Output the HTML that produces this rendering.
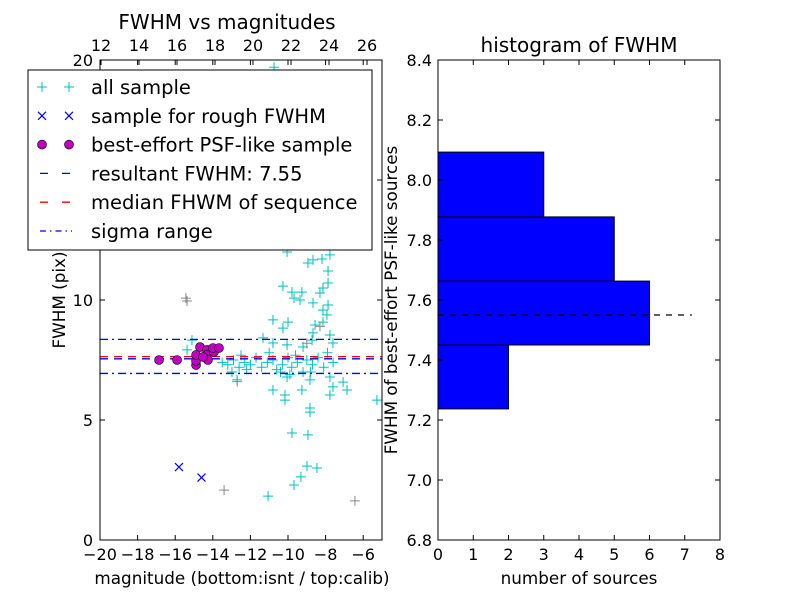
<!DOCTYPE html>
<html><head><meta charset="utf-8"><style>
body{margin:0;background:#fff;}
svg{display:block;font-family:"DejaVu Sans","Liberation Sans",sans-serif;}
</style></head><body>
<svg id="c" width="800" height="600"></svg>
<script>
const allMag=[-10.05,-8.94,-8.67,-8.19,-7.77,-7.87,-10.27,-9.79,-9.26,-9.68,-9.36,-8.14,-7.87,-8.30,-8.67,-7.87,-8.14,-7.93,-10.80,-10.0,-10.27,-8.56,-8.14,-8.67,-7.77,-7.61,-8.72,-11.33,-10.80,-10.05,-9.20,-15.11,-15.37,-13.2,-12.9,-12.6,-12.3,-12.0,-11.7,-11.4,-11.1,-10.8,-10.6,-10.3,-10.0,-9.8,-9.5,-9.2,-9.0,-8.7,-8.4,-8.1,-7.9,-7.6,-12.5,-11.0,-9.6,-13.5,-12.2,-10.4,-9.9,-8.8,-12.98,-12.71,-10.05,-8.83,-7.77,-7.61,-7.07,-6.86,-10.80,-10.16,-9.26,-7.77,-5.27,-8.83,-10.16,-8.83,-9.79,-8.94,-8.99,-8.46,-9.31,-9.68,-11.06,-10.74];
const allFwhm=[12.0,11.54,11.67,11.71,11.88,11.21,10.58,10.33,10.33,10.08,10.0,10.5,10.71,10.29,9.88,9.79,9.58,9.38,9.17,9.08,8.83,8.96,9.08,8.63,8.54,8.21,8.33,8.42,8.21,8.13,8.04,8.33,7.92,7.3,7.5,7.2,7.4,7.3,7.6,7.2,7.4,7.5,7.1,7.3,7.6,7.2,7.4,7.0,7.5,7.3,7.6,7.2,7.8,7.4,7.7,7.8,7.7,7.4,7.1,7.0,6.9,7.0,7.0,6.67,6.79,6.67,6.79,6.38,6.58,6.25,6.25,6.04,6.25,6.04,5.83,5.5,5.83,5.33,4.46,4.38,3.08,3.0,2.63,2.29,1.83,19.7];
const greyMag=[-15.43,-15.37,-13.40,-6.44,-9.0,-8.3,-12.7];
const greyFwhm=[10.08,9.96,2.08,1.63,8.2,8.9,6.6];
const roughMag=[-15.8,-14.6];
const roughFwhm=[3.04,2.6];
const bestMag=[-16.86,-15.9,-14.89,-14.89,-14.89,-14.68,-14.31,-14.31,-14.26,-13.94,-13.99,-13.67,-14.52];
const bestFwhm=[7.5,7.5,7.29,7.46,7.71,8.04,7.92,7.71,7.5,7.83,8.0,8.0,7.63];
const resultFwhm=7.55, medianFwhm=7.64, sigmaLo=6.94, sigmaHi=8.36;
const binEdges=[7.237,7.45,7.663,7.877,8.093];
const binCounts=[2,6,5,3];
const leftXTicks=[-20,-18,-16,-14,-12,-10,-8,-6];
const topXTicks=[12,14,16,18,20,22,24,26];
const leftYTicks=[0,5,10,15,20];
const rightXTicks=[0,1,2,3,4,5,6,7,8];
const rightYTicks=["6.8","7.0","7.2","7.4","7.6","7.8","8.0","8.2","8.4"];

const NS="http://www.w3.org/2000/svg";
const svg=document.getElementById('c');
function mk(tag,at,parent){const e=document.createElementNS(NS,tag);for(const k in at)e.setAttribute(k,at[k]);(parent||svg).appendChild(e);return e;}
function txt(s,x,y,size,anchor,parent){const t=mk('text',{x:x,y:y,'font-size':size,'text-anchor':anchor||'middle',fill:'#000'},parent);t.textContent=s;return t;}

const L={x0:100,x1:382,y0:60,y1:540};
const lx=v=>L.x0+(v+20)/15*(L.x1-L.x0);
const ly=v=>L.y1-v/20*(L.y1-L.y0);
const tx=v=>101+(v-12)*19;
const R={x0:438,x1:720,y0:60,y1:540};
const rx=v=>R.x0+v/8*(R.x1-R.x0);
const ry=v=>R.y1-(v-6.8)/1.6*(R.y1-R.y0);

const gL=mk('g',{});


function plus(x,y,col,g){const p=mk('path',{d:`M${x-5} ${y}h10M${x} ${y-5}v10`,stroke:col,'stroke-width':1,fill:'none'},g);return p;}
for(let i=0;i<allMag.length;i++){const p=plus(lx(allMag[i]),ly(allFwhm[i]),'#00bfbf',gL);

}
for(let i=0;i<greyMag.length;i++){const p=plus(lx(greyMag[i]),ly(greyFwhm[i]),'#888',gL);

}
for(let i=0;i<roughMag.length;i++){const x=lx(roughMag[i]),y=ly(roughFwhm[i]);const p=mk('path',{d:`M${x-4} ${y-4}l8 8M${x-4} ${y+4}l8 -8`,stroke:'#0000ff','stroke-width':1.2},gL);

}
function hline(y,col,dash,name){const l=mk('line',{x1:L.x0,x2:L.x1,y1:y,y2:y,stroke:col,'stroke-width':1.3,'stroke-dasharray':dash},gL);

}
hline(ly(sigmaHi),'#0000ff','8 4 2 4','sigma-upper-line');
hline(ly(sigmaLo),'#0000ff','8 4 2 4','sigma-lower-line');
hline(ly(medianFwhm),'#ff0000','8 6','median-line');
hline(ly(resultFwhm),'#0000ff','8 6','result-line');
for(let i=0;i<bestMag.length;i++){const c=mk('circle',{cx:lx(bestMag[i]),cy:ly(bestFwhm[i]),r:4.5,fill:'#bf00bf',stroke:'#000','stroke-width':0.6},gL);

}
const fr=mk('rect',{x:L.x0,y:L.y0,width:L.x1-L.x0,height:L.y1-L.y0,fill:'none',stroke:'#000','stroke-width':1});


leftXTicks.forEach(v=>{const x=lx(v);mk('path',{d:`M${x} ${L.y1}v-5M${x} ${L.y0}v5`,stroke:'#000'});const t=txt('\u2212'+Math.abs(v),x,560,16);

});
topXTicks.forEach(v=>{const x=tx(v);mk('path',{d:`M${x} ${L.y0}v5`,stroke:'#000'});const t=txt(String(v),x,51,16);

});
leftYTicks.forEach(v=>{const y=ly(v);mk('path',{d:`M${L.x0} ${y}h5M${L.x1} ${y}h-5`,stroke:'#000'});const t=txt(String(v),93,y+6,16,'end');

});
let t=txt('FWHM vs magnitudes',227,29,20);


t=txt('magnitude (bottom:isnt / top:calib)',242,584,16.8);


t=txt('FWHM (pix)',0,0,16.8);t.setAttribute('transform','translate(65,300) rotate(-90)');



const lg=mk('g',{});


mk('rect',{x:28,y:70,width:344,height:180,fill:'#fff',stroke:'#000','stroke-width':1},lg);
const ents=['all sample','sample for rough FWHM','best-effort PSF-like sample','resultant FWHM: 7.55','median FHWM of sequence','sigma range'];
ents.forEach((s,i)=>{const y=87+i*28.8;const g=mk('g',{},lg);


if(i==0){plus(42,y,'#00bfbf',g);plus(69,y,'#00bfbf',g);}
if(i==1){[42,69].forEach(x=>mk('path',{d:`M${x-4} ${y-4}l8 8M${x-4} ${y+4}l8 -8`,stroke:'#0000ff','stroke-width':1.2},g));}
if(i==2){[42,69].forEach(x=>mk('circle',{cx:x,cy:y,r:4.5,fill:'#bf00bf',stroke:'#000','stroke-width':0.6},g));}
if(i==3)mk('line',{x1:40,x2:72,y1:y,y2:y,stroke:'#0000ff','stroke-width':1.3,'stroke-dasharray':'8 14'},g);
if(i==4)mk('line',{x1:40,x2:72,y1:y,y2:y,stroke:'#ff0000','stroke-width':1.3,'stroke-dasharray':'8 14'},g);
if(i==5)mk('line',{x1:40,x2:72,y1:y,y2:y,stroke:'#0000ff','stroke-width':1.3,'stroke-dasharray':'6 4 1.5 4'},g);
txt(s,91,y+7,19.5,'start',g);});

const gR=mk('g',{});


for(let i=0;i<binCounts.length;i++){const y1=ry(binEdges[i]),y2=ry(binEdges[i+1]);const b=mk('rect',{x:rx(0),y:y2,width:rx(binCounts[i])-rx(0),height:y1-y2,fill:'#0000ff',stroke:'#000','stroke-width':1},gR);

}
const dl=mk('line',{x1:rx(0),x2:rx(7.2),y1:ry(resultFwhm),y2:ry(resultFwhm),stroke:'#000','stroke-width':1.2,'stroke-dasharray':'6 6'},gR);


const fr2=mk('rect',{x:R.x0,y:R.y0,width:R.x1-R.x0,height:R.y1-R.y0,fill:'none',stroke:'#000','stroke-width':1});


rightXTicks.forEach(v=>{const x=rx(v);mk('path',{d:`M${x} ${R.y1}v-5M${x} ${R.y0}v5`,stroke:'#000'});const t=txt(String(v),x,560,16);

});
rightYTicks.forEach(s=>{const y=ry(parseFloat(s));mk('path',{d:`M${R.x0} ${y}h5M${R.x1} ${y}h-5`,stroke:'#000'});const t=txt(s,432,y+6,16,'end');

});
t=txt('histogram of FWHM',579,52,20);


t=txt('number of sources',579,584,16.8);


t=txt('FWHM of best-effort PSF-like sources',0,0,16.8);t.setAttribute('transform','translate(397,300) rotate(-90)');


</script>
</body></html>
